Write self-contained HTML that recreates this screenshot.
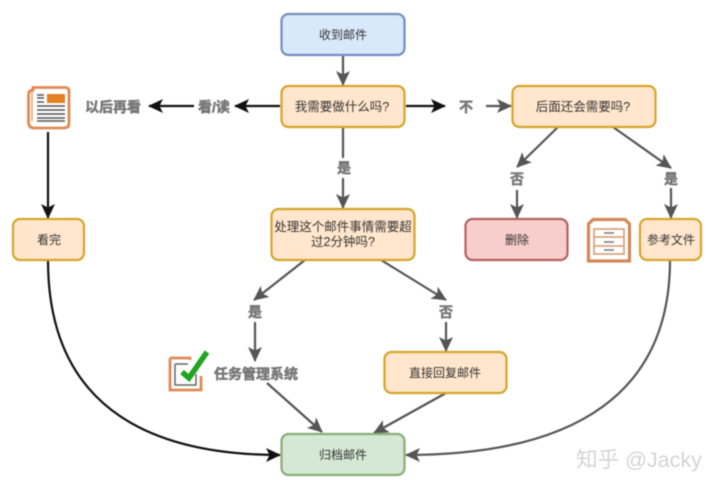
<!DOCTYPE html>
<html><head><meta charset="utf-8"><style>
html,body{margin:0;padding:0;background:#fff}
svg{display:block;filter:blur(.4px)}
text{font-family:"Liberation Sans","Noto Sans CJK SC",sans-serif;text-anchor:middle;font-size:12px;fill:#333}
.w{font-size:12.5px}
.g{font-weight:bold;font-size:14px;fill:#777;stroke:#777;stroke-width:.5px}
.box{stroke-width:2.200}
.o{fill:#ffe6cc;stroke:#d6a52c}
.d{stroke:#555;stroke-width:2.200;fill:none}
.k{stroke:#111;stroke-width:2.200;fill:none}
</style></head><body>
<svg width="720" height="491" viewBox="0 0 720 491" xmlns="http://www.w3.org/2000/svg">
<defs>
<marker id="md" markerUnits="userSpaceOnUse" markerWidth="16" markerHeight="14" refX="14" refY="7" orient="auto"><path d="M0 0L15 7L0 14L3.500 7Z" fill="#555"/></marker>
<marker id="mk" markerUnits="userSpaceOnUse" markerWidth="16" markerHeight="14" refX="14" refY="7" orient="auto"><path d="M0 0L15 7L0 14L3.500 7Z" fill="#111"/></marker>
</defs>

<!-- connectors -->
<path class="d" d="M343 55V85" marker-end="url(#md)"/>
<path class="k" d="M280 106H235" marker-end="url(#mk)"/>
<path class="k" d="M194 106H149" marker-end="url(#mk)"/>
<path class="k" d="M406 106H445" marker-end="url(#mk)"/>
<path class="d" d="M486 106H511" marker-end="url(#md)"/>
<path class="d" d="M343 127V158"/>
<path class="d" d="M343 178V208" marker-end="url(#md)"/>
<path class="k" d="M48 132V218" marker-end="url(#mk)"/>
<path class="d" d="M558 127L517 167" marker-end="url(#md)"/>
<path class="d" d="M517 190V218" marker-end="url(#md)"/>
<path class="d" d="M613 127L671 168" marker-end="url(#md)"/>
<path class="d" d="M671 188V218" marker-end="url(#md)"/>
<path class="d" d="M305 260L254 300" marker-end="url(#md)"/>
<path class="d" d="M255 322V361" marker-end="url(#md)"/>
<path class="d" d="M381 260L446 300" marker-end="url(#md)"/>
<path class="d" d="M446 322V351" marker-end="url(#md)"/>
<path class="d" d="M267 383L322 432" marker-end="url(#md)"/>
<path class="d" d="M446 393L374 433" marker-end="url(#md)"/>
<path class="k" d="M48 260C48 400 140 455 280 455" marker-end="url(#mk)"/>
<path class="d" d="M670 260C670 390 580 455 406 455" marker-end="url(#md)"/>

<!-- boxes -->
<rect class="box" x="281.500" y="14" width="123" height="41" rx="7" fill="#dae8fc" stroke="#7290bb"/>
<rect class="box o" x="281.500" y="86" width="123" height="41" rx="7"/>
<rect class="box o" x="512.500" y="86" width="143" height="41" rx="7"/>
<rect class="box o" x="13" y="219" width="71" height="41" rx="7"/>
<rect class="box o" x="271.500" y="209" width="143" height="51" rx="7"/>
<rect class="box" x="465.500" y="219" width="102" height="41" rx="7" fill="#f8cecc" stroke="#b4625e"/>
<rect class="box o" x="640" y="219" width="61" height="41" rx="7"/>
<rect class="box o" x="384.500" y="352" width="122" height="41" rx="7"/>
<rect class="box" x="281.500" y="434" width="123" height="41" rx="7" fill="#d5e8d4" stroke="#89ad76"/>

<!-- box text -->
<text x="343" y="39">收到邮件</text>
<text class="w" x="342" y="111">我需要做什么吗?</text>
<text class="w" x="583" y="111">后面还会需要吗?</text>
<text x="49" y="244">看完</text>
<text class="w" x="343" y="231">处理这个邮件事情需要超</text>
<text class="w" x="343" y="246">过2分钟吗?</text>
<text x="517" y="244">删除</text>
<text x="671" y="244">参考文件</text>
<text x="445" y="377">直接回复邮件</text>
<text x="343" y="459">归档邮件</text>

<!-- edge labels -->
<text class="g" x="113" y="112">以后再看</text>
<text class="g" x="214" y="112">看/读</text>
<text class="g" x="466" y="112">不</text>
<text class="g" x="344" y="173">是</text>
<text class="g" x="517" y="184">否</text>
<text class="g" x="671" y="184">是</text>
<text class="g" x="255" y="317">是</text>
<text class="g" x="446" y="317">否</text>
<text class="g" x="256" y="379">任务管理系统</text>

<!-- newspaper icon -->
<path d="M33 87.500H65Q69 87.500 69 91.500V123Q69 128 64 128H34Q28.500 128 28.500 122V95Q28.500 90 33 90Z" fill="#fff" stroke="#e08a54" stroke-width="2.800"/>
<path d="M32 90V121" stroke="#e08a54" stroke-width="1.200" fill="none"/>
<rect x="47" y="94" width="18" height="9" fill="#e67e22"/>
<path d="M37 95H44M37 98H44M37 102H44M37 106H65M37 110H65M37 114H65M37 118H65M37 121H65" stroke="#555" stroke-width="1.500"/>

<!-- cabinet icon -->
<path d="M588.500 224L593 219.500H625L629.500 224V261H588.500Z" fill="#fff" stroke="#d28a58" stroke-width="3.200"/>
<rect x="594" y="229" width="30" height="25" fill="#fff" stroke="#d8a585" stroke-width="1.800"/>
<path d="M594 237H624M594 246H624" stroke="#d8a585" stroke-width="1.800"/>
<path d="M604 233H614M604 242H614M604 250H614" stroke="#777" stroke-width="1.500"/>

<!-- checklist icon -->
<path d="M170 358H190V360M170 358V390H201V376" fill="none" stroke="#e08a54" stroke-width="2.800"/>
<path d="M175 364H188M175 364V385H196V374" fill="none" stroke="#666" stroke-width="1.500"/>
<path d="M182 372L189 378L207 352" fill="none" stroke="#1fa51f" stroke-width="5.500"/>

<!-- watermark -->
<text x="639" y="467" style="font-size:21.500px;fill:#d4d4d4">知乎 @Jacky</text>
</svg>
</body></html>
